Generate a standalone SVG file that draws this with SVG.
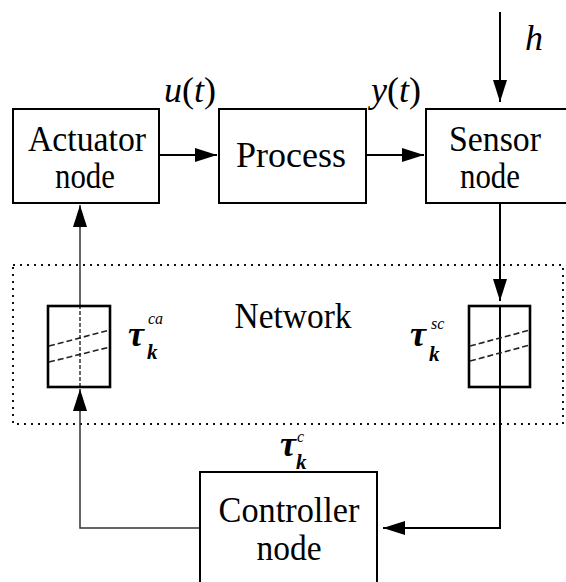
<svg xmlns="http://www.w3.org/2000/svg" width="566" height="582" viewBox="0 0 566 582" font-family="'Liberation Serif', 'DejaVu Serif', Tinos, 'Times New Roman', Times, serif">
<style>
.box{fill:#fff;stroke:#000;stroke-width:2}
.buf{fill:none;stroke:#000;stroke-width:2.6}
.lbl{font-size:35px;text-anchor:middle;fill:#000}
.m{font-style:italic;fill:#000}
.up{font-style:normal}
.wire{fill:none;stroke:#000;stroke-width:2}
.thin{fill:none;stroke:#333;stroke-width:1.5}
.dash{fill:none;stroke:#222;stroke-width:1.6;stroke-dasharray:6 3}
.net{fill:none;stroke:#111;stroke-width:2;stroke-dasharray:2 5}
</style>
<defs>
<marker id="ah" markerWidth="22" markerHeight="14" refX="22" refY="7" orient="auto" markerUnits="userSpaceOnUse">
<path d="M0,0 L22,7 L0,14 z" fill="#000"/>
</marker>
</defs>
<rect width="566" height="582" fill="#fff"/>

<g id="network">
<rect class="net" x="13" y="265" width="550" height="159"/>
<text class="lbl" x="293" y="328" textLength="117" lengthAdjust="spacingAndGlyphs">Network</text>
</g>

<g id="connectors">
<path class="wire" d="M159,155 H217" marker-end="url(#ah)"/>
<path class="wire" d="M366,155 H424" marker-end="url(#ah)"/>
<path class="wire" d="M500,12 V102" marker-end="url(#ah)"/>
<path class="wire" d="M500,203 V301" marker-end="url(#ah)"/>
<path class="wire" d="M500,306 V528 H383" marker-end="url(#ah)"/>
<path class="thin" d="M200,528 H80 V389" marker-end="url(#ah)"/>
<path class="thin" d="M80,387 V306" stroke-dasharray="4 2"/>
<path class="thin" d="M80,306 V205" marker-end="url(#ah)"/>
</g>

<g id="actuator">
<rect class="box" x="13" y="109" width="146" height="94"/>
<text class="lbl" x="87" y="151" textLength="118" lengthAdjust="spacingAndGlyphs">Actuator</text>
<text class="lbl" x="85" y="188" textLength="60" lengthAdjust="spacingAndGlyphs">node</text>
</g>

<g id="process">
<rect class="box" x="219" y="109" width="147" height="94"/>
<text class="lbl" x="291" y="167" textLength="110" lengthAdjust="spacingAndGlyphs">Process</text>
</g>

<g id="sensor">
<rect class="box" x="426" y="109" width="150" height="94"/>
<text class="lbl" x="495" y="151" textLength="92" lengthAdjust="spacingAndGlyphs">Sensor</text>
<text class="lbl" x="490" y="188" textLength="60" lengthAdjust="spacingAndGlyphs">node</text>
</g>

<g id="controller">
<rect class="box" x="200" y="472" width="177" height="140"/>
<text class="lbl" x="289" y="522" textLength="141" lengthAdjust="spacingAndGlyphs">Controller</text>
<text class="lbl" x="289" y="560" textLength="65" lengthAdjust="spacingAndGlyphs">node</text>
</g>

<g id="buffer-ca">
<rect class="buf" x="48" y="306" width="62" height="81"/>
<path class="dash" d="M49,346 L110,330 M49,362 L110,347"/>
</g>

<g id="buffer-sc">
<rect class="buf" x="469" y="306" width="61" height="81"/>
<path class="dash" d="M470,346 L530,330 M470,361 L530,345"/>
</g>

<g id="labels">
<text class="m" x="164" y="102" font-size="36">u<tspan class="up">(</tspan>t<tspan class="up">)</tspan></text>
<text class="m" x="371" y="102" font-size="36">y<tspan class="up">(</tspan>t<tspan class="up">)</tspan></text>
<text class="m" x="525" y="50" font-size="36">h</text>
<text class="m" x="128" y="346" font-size="36" font-weight="bold">τ</text>
<text class="m" x="148" y="324" font-size="16">ca</text>
<text class="m" x="147" y="359" font-size="21" font-weight="bold">k</text>
<text class="m" x="410" y="346" font-size="36" font-weight="bold">τ</text>
<text class="m" x="431" y="329" font-size="16">sc</text>
<text class="m" x="429" y="361" font-size="21" font-weight="bold">k</text>
<text class="m" x="280" y="456" font-size="36" font-weight="bold">τ</text>
<text class="m" x="297" y="442" font-size="16">c</text>
<text class="m" x="296" y="469" font-size="21" font-weight="bold">k</text>
</g>
</svg>
